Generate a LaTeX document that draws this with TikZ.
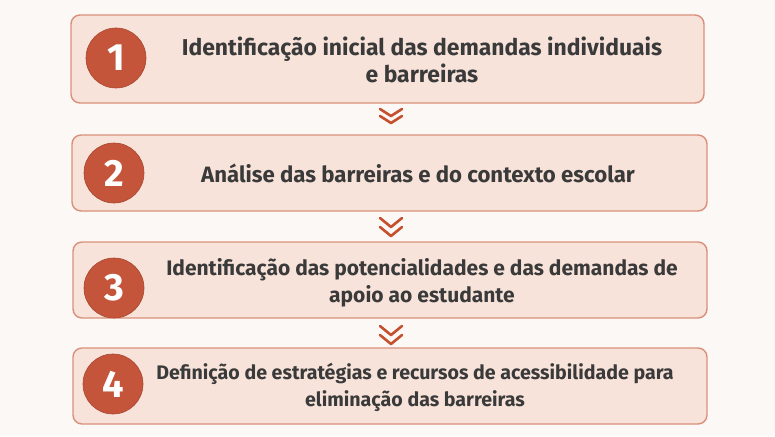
\documentclass[tikz,border=0pt]{standalone}
\usepackage{fontspec}
\setmainfont{Fira Sans}
\definecolor{bgc}{HTML}{FCF8F5}
\definecolor{boxfill}{HTML}{F8E3DA}
\definecolor{boxdraw}{HTML}{D9907A}
\definecolor{circfill}{HTML}{C4553A}
\definecolor{chev}{HTML}{C4502E}
\definecolor{txt}{HTML}{3A3A3A}
\begin{document}
\begin{tikzpicture}[x=1pt,y=-1pt,
  stepbox/.style={draw=boxdraw, line width=1.4pt, fill=boxfill, rounded corners=9pt},
  numcirc/.style={circle, fill=circfill, draw=circfill!85!black, line width=0.6pt, minimum size=60pt, inner sep=0pt, text=white, font=\fontsize{38}{38}\selectfont\bfseries},
  label/.style={text=txt, align=center},
  chevron/.style={draw=chev, line width=2.6pt, line cap=round, line join=round}
]
\fill[bgc] (0,0) rectangle (775,436);
\useasboundingbox (0,0) rectangle (775,436);
% boxes
\draw[stepbox] (71,15) rectangle (704,103);
\draw[stepbox] (72,135) rectangle (707,211);
\draw[stepbox] (73,242) rectangle (707,318);
\draw[stepbox] (73,348) rectangle (707,424);
% circles
\node[numcirc] (c1) at (116,58) {1};
\node[numcirc] (c2) at (114,173) {2};
\node[numcirc] (c3) at (114,288) {3};
\node[numcirc] (c4) at (113,384) {4};
% texts
\node[label, font=\fontsize{22.9}{27}\selectfont\bfseries] (t1) at (422,60) {Identificação inicial das demandas individuais\\e barreiras};
\node[label, font=\fontsize{22.2}{27}\selectfont\bfseries] (t2) at (418,173) {Análise das barreiras e do contexto escolar};
\node[label, font=\fontsize{21}{27}\selectfont\bfseries] (t3) at (422,283) {Identificação das potencialidades e das demandas de\\apoio ao estudante};
\node[label, font=\fontsize{19.6}{27}\selectfont\bfseries] (t4) at (415,387) {Definição de estratégias e recursos de acessibilidade para\\eliminação das barreiras};
% chevrons
\foreach \y/\h in {109/7,218/9,326/9}{
  \draw[chevron] (380,\y) -- (391,\y+\h) -- (402,\y);
  \draw[chevron] (380,\y+\h) -- (391,\y+2*\h) -- (402,\y+\h);
}
\end{tikzpicture}
\end{document}
